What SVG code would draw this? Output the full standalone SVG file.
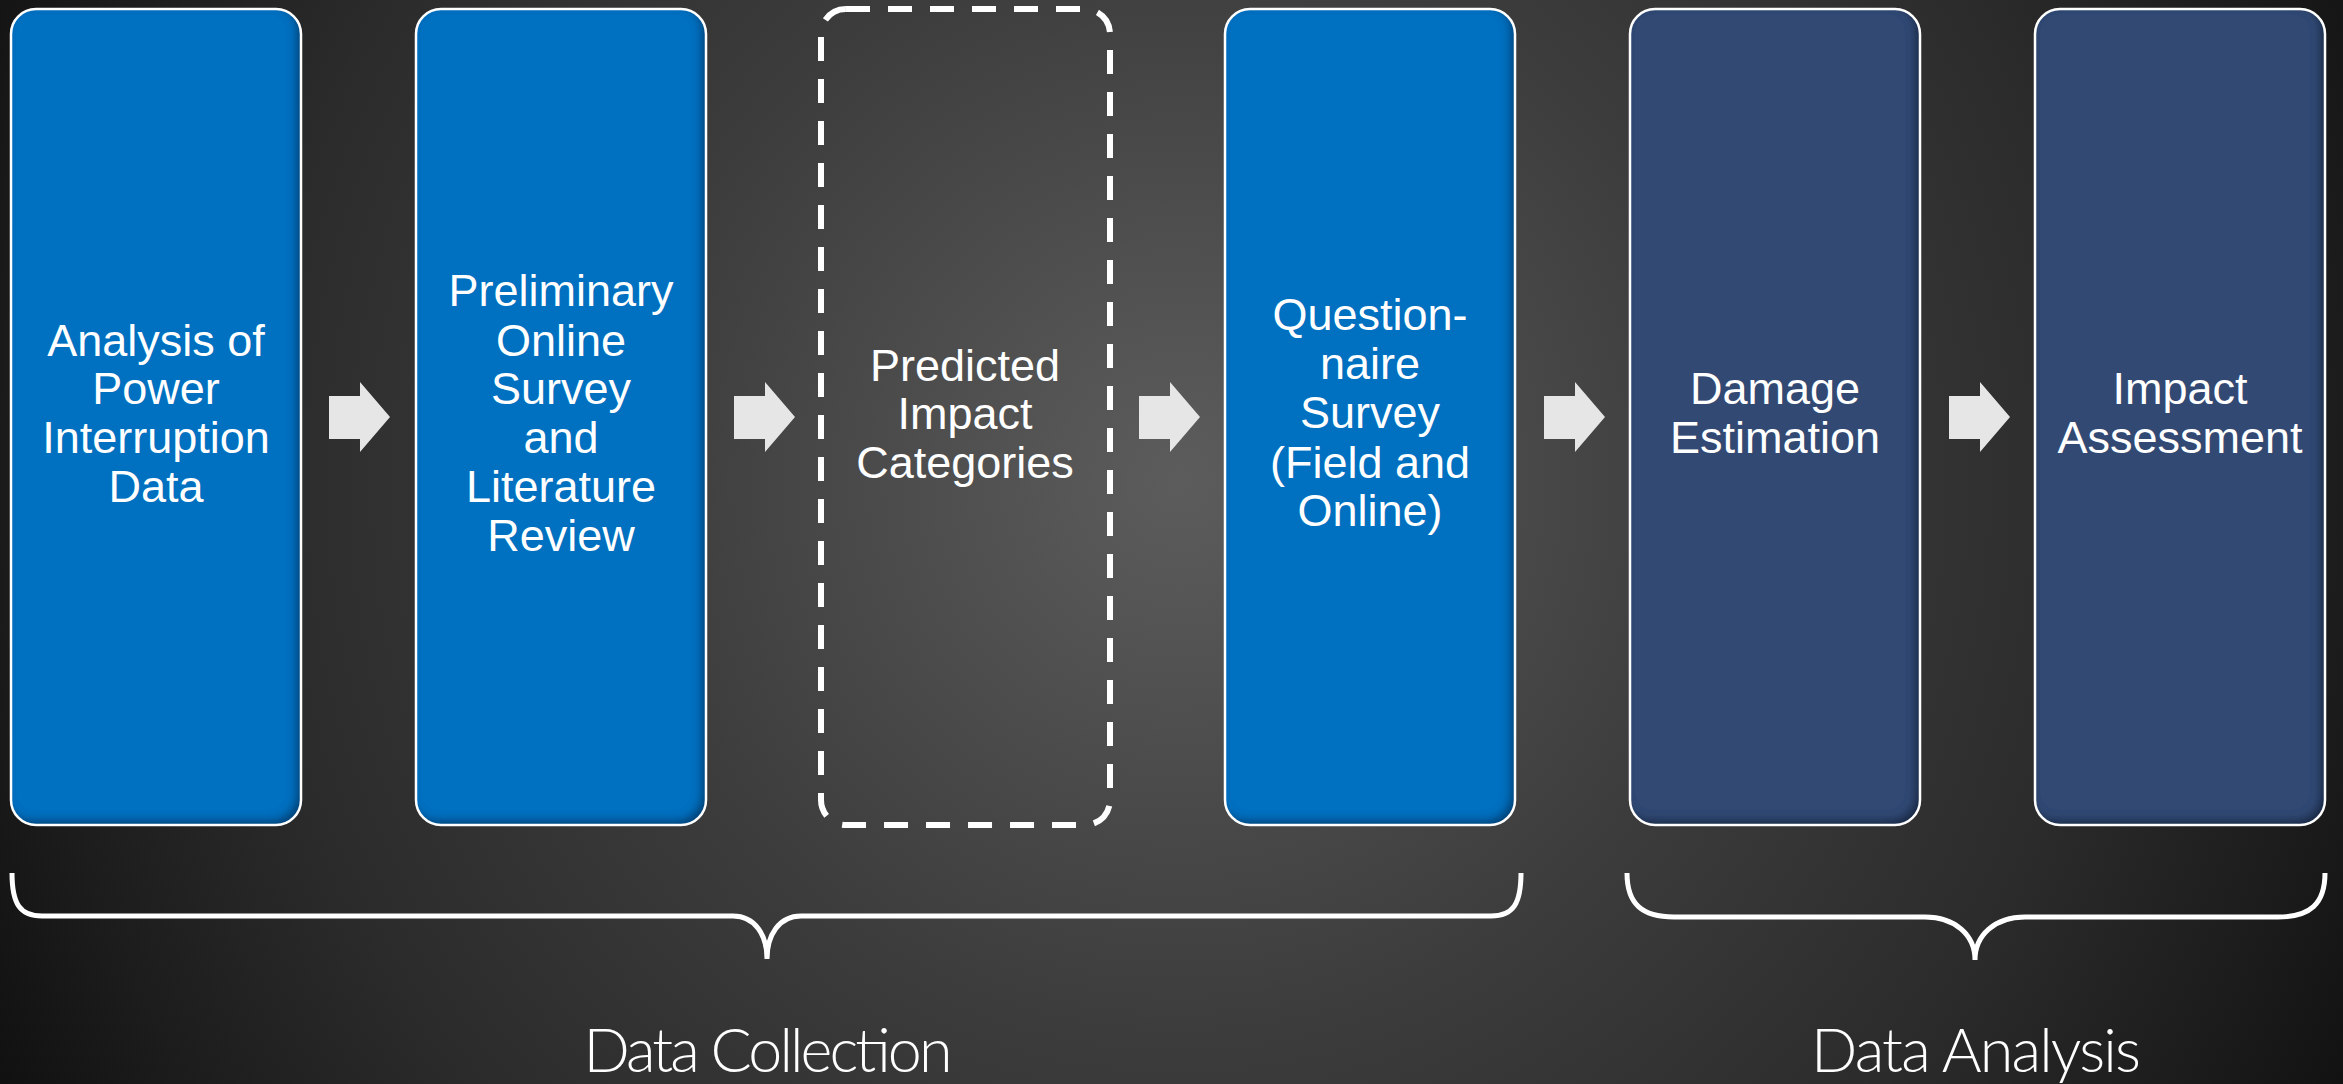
<svg xmlns="http://www.w3.org/2000/svg" width="2343" height="1084" viewBox="0 0 2343 1084">
  <defs>
    <radialGradient id="bg" gradientUnits="userSpaceOnUse" cx="1180" cy="480" r="1320">
      <stop offset="0" stop-color="#5c5c5c"/>
      <stop offset="0.1" stop-color="#555555"/>
      <stop offset="0.42" stop-color="#3c3c3c"/>
      <stop offset="0.7" stop-color="#2b2b2b"/>
      <stop offset="0.88" stop-color="#1c1c1c"/>
      <stop offset="1" stop-color="#111111"/>
    </radialGradient>
    <!-- inner shadow along the lower-right edges of each step box -->
    <filter id="inset" x="-5%" y="-5%" width="110%" height="110%">
      <feComponentTransfer in="SourceAlpha" result="inv">
        <feFuncA type="table" tableValues="1 0"/>
      </feComponentTransfer>
      <feGaussianBlur in="inv" stdDeviation="4" result="blur"/>
      <feOffset in="blur" dx="-5" dy="-5" result="off"/>
      <feFlood flood-color="#000000" flood-opacity="0.65"/>
      <feComposite operator="in" in2="off" result="shadow"/>
      <feComposite operator="in" in="shadow" in2="SourceAlpha" result="inner"/>
      <feMerge>
        <feMergeNode in="SourceGraphic"/>
        <feMergeNode in="inner"/>
      </feMerge>
    </filter>
  </defs>
  <style>
    .fill-blue { fill: #0070c0; }
    .fill-navy { fill: #314a73; }
    .edge { fill: none; stroke: #ffffff; stroke-width: 2.5; }
    .dashed { fill: none; stroke: #ffffff; stroke-width: 6; stroke-dasharray: 24 18; }
    .label { font-family: "Liberation Sans", Arial, sans-serif; font-size: 45px; fill: #ffffff; text-anchor: middle; }
    .group-label { font-family: Lato, "Open Sans", sans-serif; font-weight: 300; font-size: 61px; fill: #ffffff; text-anchor: middle; }
    .arrow { fill: #e6e6e6; }
    .brace { fill: none; stroke: #ffffff; stroke-width: 5; }
  </style>

  <rect x="0" y="0" width="2343" height="1084" fill="url(#bg)"/>

  <!-- step 1 -->
  <g id="node-power-interruption">
    <rect class="fill-blue" x="11" y="9" width="290" height="816" rx="25" filter="url(#inset)"/>
    <rect class="edge" x="11" y="9" width="290" height="816" rx="25"/>
    <text class="label" x="156" y="356">Analysis of</text>
    <text class="label" x="156" y="404">Power</text>
    <text class="label" x="156" y="453">Interruption</text>
    <text class="label" x="156" y="502">Data</text>
  </g>

  <!-- step 2 -->
  <g id="node-preliminary-survey">
    <rect class="fill-blue" x="416" y="9" width="290" height="816" rx="25" filter="url(#inset)"/>
    <rect class="edge" x="416" y="9" width="290" height="816" rx="25"/>
    <text class="label" x="561" y="306">Preliminary</text>
    <text class="label" x="561" y="356">Online</text>
    <text class="label" x="561" y="404">Survey</text>
    <text class="label" x="561" y="453">and</text>
    <text class="label" x="561" y="502">Literature</text>
    <text class="label" x="561" y="551">Review</text>
  </g>

  <!-- step 3 (intermediate result, dashed outline) -->
  <g id="node-predicted-categories">
    <rect class="dashed" x="821" y="9" width="289" height="816" rx="25"/>
    <text class="label" x="965" y="381">Predicted</text>
    <text class="label" x="965" y="429">Impact</text>
    <text class="label" x="965" y="478">Categories</text>
  </g>

  <!-- step 4 -->
  <g id="node-questionnaire">
    <rect class="fill-blue" x="1225" y="9" width="290" height="816" rx="25" filter="url(#inset)"/>
    <rect class="edge" x="1225" y="9" width="290" height="816" rx="25"/>
    <text class="label" x="1370" y="330">Question-</text>
    <text class="label" x="1370" y="379">naire</text>
    <text class="label" x="1370" y="428">Survey</text>
    <text class="label" x="1370" y="478">(Field and</text>
    <text class="label" x="1370" y="526">Online)</text>
  </g>

  <!-- step 5 -->
  <g id="node-damage-estimation">
    <rect class="fill-navy" x="1630" y="9" width="290" height="816" rx="25" filter="url(#inset)"/>
    <rect class="edge" x="1630" y="9" width="290" height="816" rx="25"/>
    <text class="label" x="1775" y="404">Damage</text>
    <text class="label" x="1775" y="453">Estimation</text>
  </g>

  <!-- step 6 -->
  <g id="node-impact-assessment">
    <rect class="fill-navy" x="2035" y="9" width="290" height="816" rx="25" filter="url(#inset)"/>
    <rect class="edge" x="2035" y="9" width="290" height="816" rx="25"/>
    <text class="label" x="2180" y="404">Impact</text>
    <text class="label" x="2180" y="453">Assessment</text>
  </g>

  <!-- block arrows between consecutive steps -->
  <g id="connectors">
    <polygon class="arrow" points="329,396 360,396 360,382 390,417 360,452 360,439 329,439"/>
    <polygon class="arrow" points="734,396 765,396 765,382 795,417 765,452 765,439 734,439"/>
    <polygon class="arrow" points="1139,396 1170,396 1170,382 1200,417 1170,452 1170,439 1139,439"/>
    <polygon class="arrow" points="1544,396 1575,396 1575,382 1605,417 1575,452 1575,439 1544,439"/>
    <polygon class="arrow" points="1949,396 1980,396 1980,382 2010,417 1980,452 1980,439 1949,439"/>
  </g>

  <!-- phase braces -->
  <g id="phase-data-collection">
    <path class="brace" d="M12,873 C12,904 20,916 42,916 L733,916 C755,916 767,935 767,959 C767,935 779,916 801,916 L1491,916 C1513,916 1521,904 1521,873"/>
    <text class="group-label" x="768" y="1072" textLength="369">Data Collection</text>
  </g>
  <g id="phase-data-analysis">
    <path class="brace" d="M1627,873 C1627,904 1642,917 1674,917 L1925,917 C1955,917 1975,935 1975,960 C1975,935 1995,917 2025,917 L2278,917 C2310,917 2325,904 2325,873"/>
    <text class="group-label" x="1976" y="1072" textLength="330">Data Analysis</text>
  </g>
</svg>
